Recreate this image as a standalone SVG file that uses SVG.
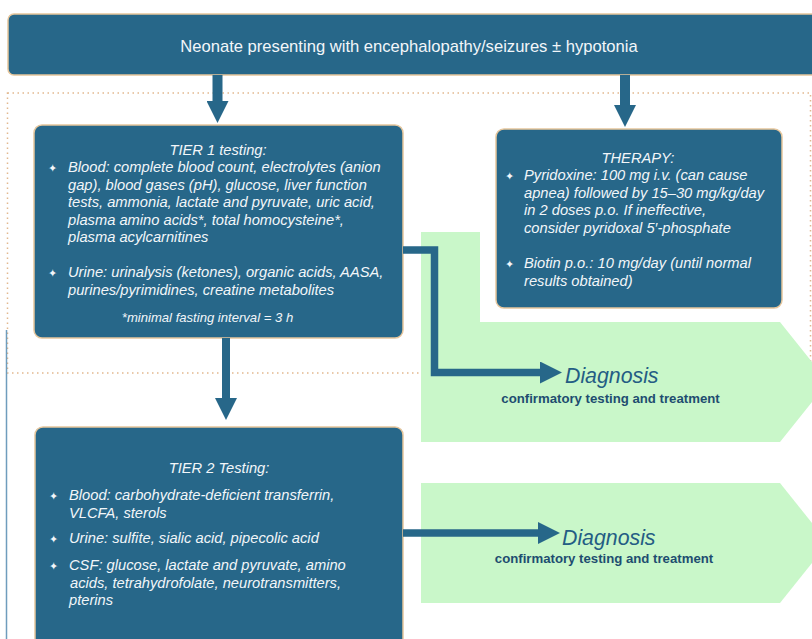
<svg xmlns="http://www.w3.org/2000/svg" width="812" height="639" viewBox="0 0 812 639">
<style>
.box{fill:#276789;stroke:#e6c69c;stroke-width:1.5}
.green{fill:#c9f7c9}
.t{font-family:"Liberation Sans",Arial,sans-serif;fill:#f2f6f9}
.it{font-style:italic;font-size:14.7px}
.bul{font-family:"DejaVu Sans",sans-serif;font-size:11px;fill:#f2f6f9}
.dx{font-family:"Liberation Sans",Arial,sans-serif;font-style:italic;font-size:21.3px;fill:#245d84}
.cf{font-family:"Liberation Sans",Arial,sans-serif;font-weight:bold;font-size:13.2px;fill:#1e4d70}
.conn{fill:none;stroke:#276789;stroke-linejoin:miter}
</style>
<defs>
<marker id="ah" markerUnits="userSpaceOnUse" viewBox="0 0 22 22" markerWidth="22" markerHeight="22" refX="2" refY="11" orient="auto">
<path d="M0,0 L22,11 L0,22 z" fill="#276789"/>
</marker>
</defs>
<rect width="812" height="639" fill="#ffffff"/>
<g id="frame">
<rect x="7.5" y="93" width="803" height="280" fill="none" stroke="#e2b88e" stroke-width="1.5" stroke-dasharray="1.5 3.5"/>
<line x1="6.5" y1="330" x2="6.5" y2="639" stroke="#6f9dbd" stroke-width="1.5"/>
</g>
<g id="diagnosis1">
<polygon class="green" points="421,232 480,232 480,322 780,322 828,382 780,442 421,442"/>
<text class="dx" x="565" y="383">Diagnosis</text>
<text class="cf" x="610.5" y="403" text-anchor="middle">confirmatory testing and treatment</text>
</g>
<g id="diagnosis2">
<polygon class="green" points="421,483 780,483 828,543 780,603 421,603"/>
<text class="dx" x="562" y="545">Diagnosis</text>
<text class="cf" x="604" y="563" text-anchor="middle">confirmatory testing and treatment</text>
</g>
<g id="start">
<rect class="box" x="8" y="14" width="820" height="61" rx="6"/>
<text class="t" x="409" y="52" text-anchor="middle" font-size="16.6px">Neonate presenting with encephalopathy/seizures ± hypotonia</text>
</g>
<g id="tier1">
<rect class="box" x="34" y="125" width="369" height="213" rx="8"/>
<text class="t it" x="218" y="155" text-anchor="middle">TIER 1 testing:</text>
<text class="bul" x="48" y="171.5">✦</text>
<text class="t it" x="68" y="172">Blood: complete blood count, electrolytes (anion</text>
<text class="t it" x="68" y="189.5">gap), blood gases (pH), glucose, liver function</text>
<text class="t it" x="68" y="207">tests, ammonia, lactate and pyruvate, uric acid,</text>
<text class="t it" x="68" y="224.5">plasma amino acids*, total homocysteine*,</text>
<text class="t it" x="68" y="242">plasma acylcarnitines</text>
<text class="bul" x="48" y="276.5">✦</text>
<text class="t it" x="68" y="277">Urine: urinalysis (ketones), organic acids, AASA,</text>
<text class="t it" x="68" y="294.5">purines/pyrimidines, creatine metabolites</text>
<text class="t" x="207.5" y="322" text-anchor="middle" font-style="italic" font-size="13.1px">*minimal fasting interval = 3 h</text>
</g>
<g id="therapy">
<rect class="box" x="496" y="129" width="286" height="179" rx="8"/>
<text class="t it" x="638" y="163" text-anchor="middle">THERAPY:</text>
<text class="bul" x="505" y="179.5">✦</text>
<text class="t it" x="524" y="180">Pyridoxine: 100 mg i.v. (can cause</text>
<text class="t it" x="524" y="197.5">apnea) followed by 15–30 mg/kg/day</text>
<text class="t it" x="524" y="215">in 2 doses p.o. If ineffective,</text>
<text class="t it" x="524" y="232.5">consider pyridoxal 5′-phosphate</text>
<text class="bul" x="505" y="267.5">✦</text>
<text class="t it" x="524" y="268">Biotin p.o.: 10 mg/day (until normal</text>
<text class="t it" x="524" y="285.5">results obtained)</text>
</g>
<g id="tier2">
<rect class="box" x="35" y="427" width="368" height="230" rx="8"/>
<text class="t it" x="219" y="473" text-anchor="middle">TIER 2 Testing:</text>
<text class="bul" x="49" y="499.5">✦</text>
<text class="t it" x="69" y="500">Blood: carbohydrate-deficient transferrin,</text>
<text class="t it" x="69" y="517.5">VLCFA, sterols</text>
<text class="bul" x="49" y="542.5">✦</text>
<text class="t it" x="69" y="543">Urine: sulfite, sialic acid, pipecolic acid</text>
<text class="bul" x="49" y="569.5">✦</text>
<text class="t it" x="69" y="570">CSF: glucose, lactate and pyruvate, amino</text>
<text class="t it" x="70" y="587.5">acids, tetrahydrofolate, neurotransmitters,</text>
<text class="t it" x="69" y="605">pterins</text>
</g>
<g id="connectors">
<line class="conn" x1="217.5" y1="75" x2="217.5" y2="103" stroke-width="10" marker-end="url(#ah)"/>
<line class="conn" x1="625" y1="75" x2="625" y2="107" stroke-width="10" marker-end="url(#ah)"/>
<line class="conn" x1="226" y1="338" x2="226" y2="400" stroke-width="8" marker-end="url(#ah)"/>
<path class="conn" d="M403,250 H434.5 V372.5 H542" stroke-width="7.5" marker-end="url(#ah)"/>
<line class="conn" x1="403" y1="533" x2="540" y2="533" stroke-width="7.5" marker-end="url(#ah)"/>
</g>
</svg>
